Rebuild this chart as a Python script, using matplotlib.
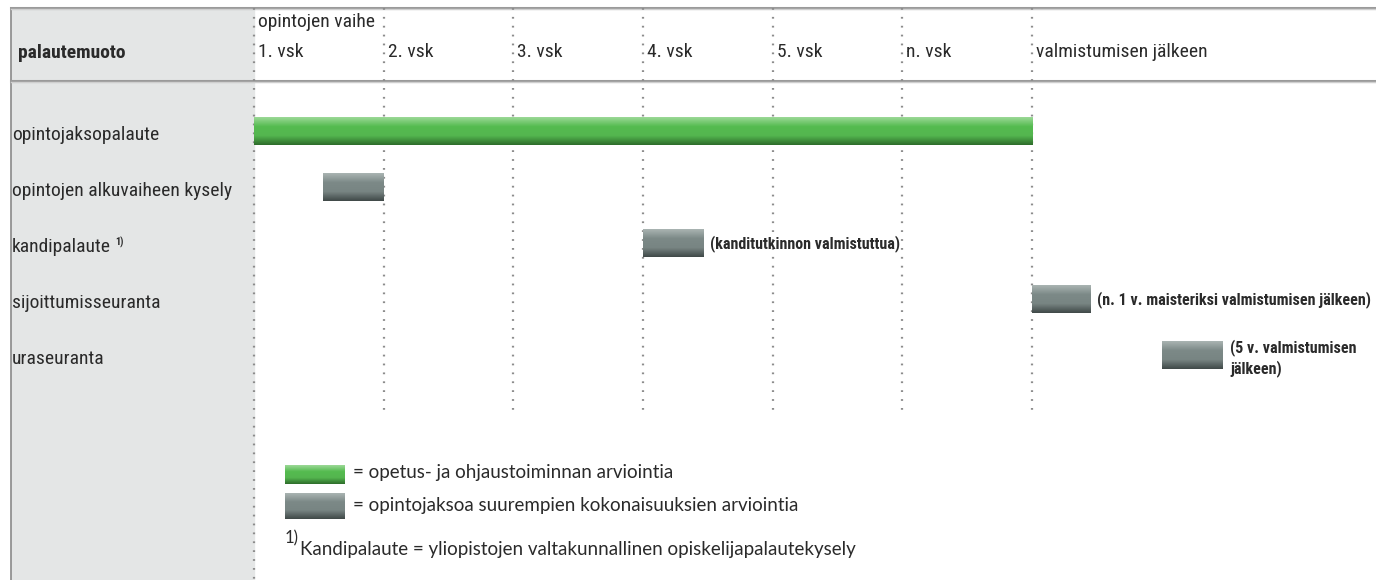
import matplotlib
matplotlib.use("Agg")
import matplotlib.pyplot as plt
import numpy as np
from matplotlib.colors import LinearSegmentedColormap

plt.rcParams['font.family'] = ['Roboto Condensed', 'DejaVu Sans']
plt.rcParams['font.stretch'] = 'condensed'

# data: vaiheet (sarakkeet) ja palautemuodot (rivit)
sarakkeet = ["1. vsk", "2. vsk", "3. vsk", "4. vsk", "5. vsk", "n. vsk", "valmistumisen jälkeen"]
sarake_x = [0, 1, 2, 3, 4, 5, 6]
rivit = ["opintojaksopalaute", "opintojen alkuvaiheen kysely", "kandipalaute",
         "sijoittumisseuranta", "uraseuranta"]
alku = [0.0, 0.53, 3.0, 6.0, 7.0]
loppu = [6.0, 1.0, 3.47, 6.45, 7.47]
tyyppi = ["opetus", "laaja", "laaja", "laaja", "laaja"]
huomio = ["", "", "(kanditutkinnon valmistuttua)",
          "(n. 1 v. maisteriksi valmistumisen jälkeen)", "(5 v. valmistumisen\njälkeen)"]

selitteet = ["= opetus- ja ohjaustoiminnan arviointia",
             "= opintojaksoa suurempien kokonaisuuksien arviointia"]
alaviite = "Kandipalaute = yliopistojen valtakunnallinen opiskelijapalautekysely"

# värit ylhäältä alas (liukuväri)
varit = {"opetus": ["#9ad895", "#55bb50", "#54b64f", "#2f6e2c"],
         "laaja": ["#a9b3b1", "#7c8987", "#788583", "#414a49"]}

W, H = 1376, 580
fig = plt.figure(figsize=(W / 100, H / 100), dpi=100)
ax = fig.add_axes([0, 0, 1, 1])

# pikselit -> data: x_px = 254 + 129.67*t, y_px = 135 + 56*i
sx, x0 = 129.67, 254
sy, y0 = 56.0, 135
ax.set_xlim(-x0 / sx, (W - x0) / sx)
ax.set_ylim((H - y0) / sy, -y0 / sy)
ax.axis("off")

def py(p):
    return (p - y0) / sy

def px(p):
    return (p - x0) / sx

# vasen harmaa sarake
ax.fill_between([px(11), px(254)], py(8), py(H), color="#e4e6e6", zorder=0)
ax.plot([px(11), px(11)], [py(8), py(H)], color="#8a8a8a", lw=1.2, zorder=1)
# vaakaviivat
for yy in (py(8), py(81)):
    ax.plot([px(11), px(W)], [yy, yy], color="#9a9a9a", lw=2.2, zorder=2)
    ax.plot([px(11), px(W)], [yy + 0.02, yy + 0.02], color="#cfcfcf", lw=1.0, zorder=2)

# pisteviivat
for i, x in enumerate(sarake_x):
    ala = py(H) if i == 0 else py(410)
    ax.plot([x, x], [py(8), ala], color="#8c8c8c", lw=1.6,
            linestyle=(0, (0.8, 3.2)), zorder=3)
    ax.text(x + 0.03, py(52), sarakkeet[i], fontsize=14, va="center", ha="left",
            color="#2a2a2a", zorder=5)
ax.text(0.03, py(22), "opintojen vaihe", fontsize=14, va="center", ha="left",
        color="#2a2a2a", zorder=5)
ax.text(px(18), py(53), "palautemuoto", fontsize=14, fontweight="bold", va="center",
        ha="left", color="#2a2a2a", zorder=5)

def palkki(x1, x2, yc, h, t):
    cm = LinearSegmentedColormap.from_list(t, varit[t])
    grad = np.linspace(0, 1, 40).reshape(-1, 1)
    ax.imshow(grad, cmap=cm, extent=[x1, x2, yc + h / 2, yc - h / 2],
              aspect="auto", interpolation="bilinear", zorder=4)

bar_h = 28 / sy
for i, nimi in enumerate(rivit):
    t = ax.text(px(12), i, nimi, fontsize=14, va="center", ha="left", color="#2a2a2a", zorder=5)
    if nimi == "kandipalaute":
        ax.annotate("1)", xy=(1, 0.78), xycoords=t, xytext=(3, 0), textcoords="offset points",
                    fontsize=7.5, fontweight="bold", va="center", ha="left", color="#2a2a2a")
    yc = i - 0.07
    palkki(alku[i], loppu[i], yc, bar_h, tyyppi[i])
    if huomio[i]:
        if "\n" in huomio[i]:
            ax.text(loppu[i] + 0.06, yc - bar_h / 2 - 0.03, huomio[i], fontsize=11.5,
                    fontweight="bold", va="top", ha="left", color="#2a2a2a", zorder=5,
                    linespacing=1.3)
        else:
            ax.text(loppu[i] + 0.05, yc, huomio[i], fontsize=11.5, fontweight="bold",
                    va="center", ha="left", color="#2a2a2a", zorder=5)

# selitteet
lato = ["Lato", "DejaVu Sans"]
palkki(px(285), px(345), py(474), 19 / sy, "opetus")
palkki(px(285), px(345), py(506), 26 / sy, "laaja")
ax.text(px(353), py(472), selitteet[0], fontsize=13.5, family=lato, stretch="normal",
        va="center", ha="left", color="#2a2a2a")
ax.text(px(353), py(506), selitteet[1], fontsize=13.5, family=lato, stretch="normal",
        va="center", ha="left", color="#2a2a2a")
ax.text(px(285), py(538), "1)", fontsize=12, family=lato, stretch="normal",
        va="center", ha="left", color="#2a2a2a")
ax.text(px(300), py(549), alaviite, fontsize=13.5, family=lato, stretch="normal",
        va="center", ha="left", color="#2a2a2a")

fig.savefig("out.png", dpi=100)
